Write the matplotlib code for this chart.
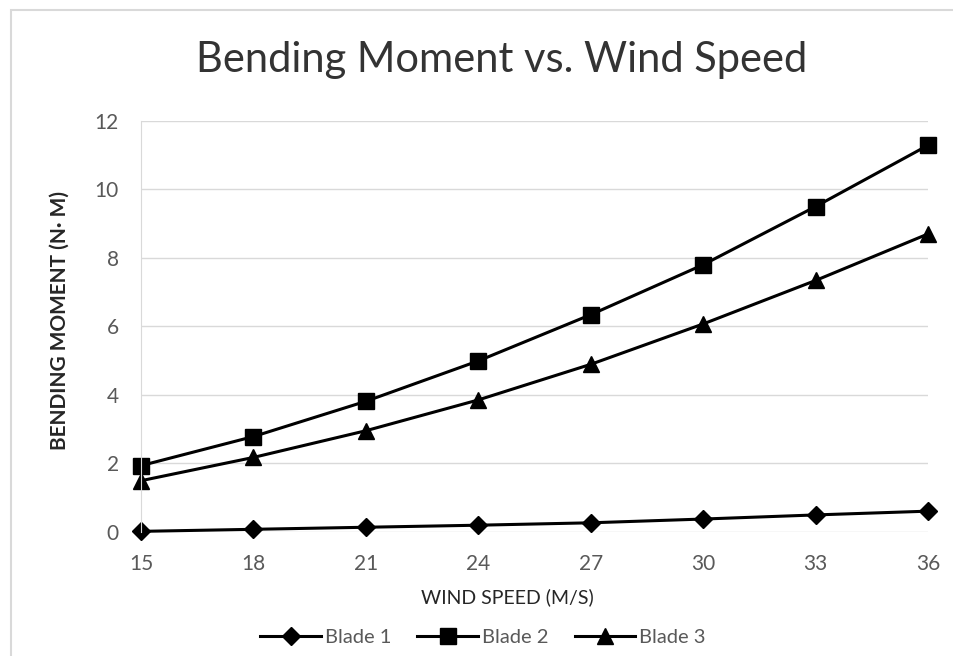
import matplotlib
matplotlib.use("Agg")
import matplotlib.pyplot as plt
from matplotlib.patches import Rectangle

# Data
wind_speed = [15, 18, 21, 24, 27, 30, 33, 36]
blade_1 = [0.01, 0.07, 0.13, 0.19, 0.26, 0.37, 0.49, 0.60]
blade_2 = [1.93, 2.78, 3.81, 4.99, 6.34, 7.80, 9.50, 11.29]
blade_3 = [1.49, 2.17, 2.95, 3.85, 4.89, 6.07, 7.34, 8.70]
y_ticks = [0, 2, 4, 6, 8, 10, 12]

plt.rcParams['font.family'] = ['Lato', 'DejaVu Sans']

fig = plt.figure(figsize=(9.54, 6.56), dpi=100)
ax = fig.add_axes([141 / 954, 1 - 531.7 / 656, (928 - 141) / 954, (531.7 - 121) / 656])

# outer chart border (only top/left visible in the reference)
fig.patches.append(Rectangle((11 / 954, -0.1), 1.2, 1 - 10 / 656 + 0.1,
                             transform=fig.transFigure, fill=False,
                             edgecolor='#d9d9d9', linewidth=1.5))

ax.plot(wind_speed, blade_1, color='black', linewidth=2.2, marker='D', markersize=9, label='Blade 1', clip_on=False)
ax.plot(wind_speed, blade_2, color='black', linewidth=2.2, marker='s', markersize=12, label='Blade 2', clip_on=False)
ax.plot(wind_speed, blade_3, color='black', linewidth=2.2, marker='^', markersize=12, label='Blade 3', clip_on=False)

ax.set_xlim(15, 36)
ax.set_ylim(0, 12)
ax.set_xticks(wind_speed)
ax.set_yticks(y_ticks)
ax.grid(axis='y', color='#d9d9d9', linewidth=1)
ax.set_axisbelow(True)
for side in ['top', 'right', 'bottom']:
    ax.spines[side].set_visible(False)
ax.spines['left'].set_color('#d9d9d9')
ax.tick_params(length=0, labelsize=15, labelcolor='#595959')
ax.tick_params(axis='x', pad=16)
ax.tick_params(axis='y', pad=16)

fig.text(502 / 954, 1 - 60 / 656, 'Bending Moment vs. Wind Speed', fontsize=30,
         color='#333333', ha='center', va='center')
fig.text(507 / 954, 1 - 597 / 656, 'WIND SPEED (M/S)', fontsize=14,
         color='#262626', ha='center', va='center')
fig.text(60 / 954, 1 - 320 / 656, 'BENDING MOMENT (N\u00b7 M)', fontsize=15,
         color='#262626', fontweight='bold', rotation=90, ha='center', va='center')

fig.legend(loc='center', bbox_to_anchor=(483 / 954, 1 - 637 / 656), ncol=3,
           frameon=False, fontsize=14.5, labelcolor='#595959',
           handlelength=3, handletextpad=0.2, columnspacing=1.3)

fig.savefig('out.png', dpi=100)
